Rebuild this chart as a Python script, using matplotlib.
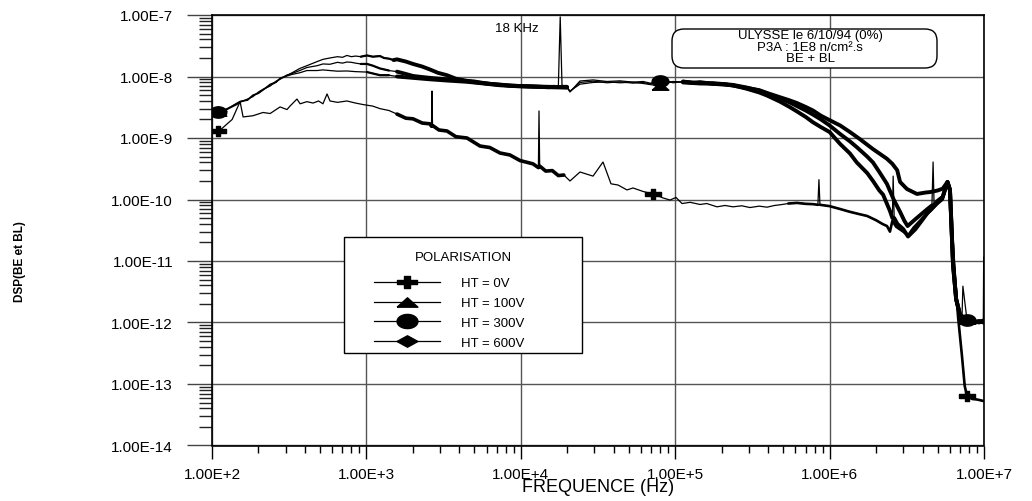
import numpy as np
import matplotlib
matplotlib.use("Agg")
import matplotlib.pyplot as plt
from matplotlib.ticker import LogLocator, FuncFormatter, NullFormatter
from matplotlib.patches import Rectangle, FancyBboxPatch
from matplotlib.lines import Line2D
from matplotlib.path import Path

plt.rcParams['font.family'] = ['Liberation Sans', 'DejaVu Sans']

# ---------------- data ----------------
freq_0v = [109, 115, 135, 152, 159, 184, 214, 238, 260, 276, 306, 320, 355, 372, 412, 451, 490, 523,
           556, 581, 650, 748, 850, 950, 1100, 1225, 1400, 1578, 1800, 2004, 2300, 2582, 2640, 2660,
           2680, 2950, 3324, 3800, 4483, 5446, 6300, 7335, 8500, 9880, 11990, 13000, 13120, 13250,
           14500, 16000, 17500, 19000, 20830, 24170, 29370, 34070, 38380, 42640, 48740, 53300, 62000,
           71800, 83420, 92560, 101200, 110700, 125000, 144800, 160000, 186600, 210000, 236700,
           270000, 305000, 350000, 393300, 440000, 477500, 540000, 615000, 700000, 780600, 840000,
           853000, 866000, 1.0e6, 1.17e6, 1.355e6, 1.55e6, 1.75e6, 2.0e6, 2.2e6, 2.354e6, 2.46e6,
           2.55e6, 2.7e6, 3.0e6, 3.22e6, 3.5e6, 4.0e6, 4.5e6, 5.0e6, 5.4e6, 5.8e6, 6.0e6, 6.2e6,
           6.5e6, 6.8e6, 7.2e6, 7.5e6, 7.76e6, 8.4e6, 9.0e6, 9.9e6]
dsp_0v = [1.30e-9, 1.4e-9, 2.0e-9, 3.9e-9, 2.2e-9, 2.3e-9, 2.6e-9, 2.5e-9, 2.9e-9, 3.2e-9, 2.9e-9,
          3.3e-9, 4.3e-9, 3.6e-9, 3.9e-9, 3.7e-9, 4.0e-9, 3.6e-9, 5.2e-9, 4.0e-9, 3.8e-9, 4.0e-9,
          3.7e-9, 3.5e-9, 3.3e-9, 3.0e-9, 2.8e-9, 2.45e-9, 2.1e-9, 2.05e-9, 1.75e-9, 1.7e-9, 1.55e-9,
          5.8e-9, 1.6e-9, 1.35e-9, 1.3e-9, 1.05e-9, 1.0e-9, 7.4e-10, 7.0e-10, 5.7e-10, 5.3e-10,
          4.3e-10, 3.8e-10, 3.3e-10, 2.75e-9, 3.5e-10, 2.9e-10, 2.95e-10, 2.45e-10, 2.5e-10, 2.0e-10,
          2.8e-10, 2.4e-10, 4.07e-10, 1.8e-10, 1.72e-10, 1.43e-10, 1.54e-10, 1.35e-10, 1.23e-10,
          1.06e-10, 9.8e-11, 1.08e-10, 8.6e-11, 9.0e-11, 8.3e-11, 8.6e-11, 7.6e-11, 8.0e-11, 7.6e-11,
          7.9e-11, 7.4e-11, 7.8e-11, 7.5e-11, 8.0e-11, 8.2e-11, 8.6e-11, 8.8e-11, 8.5e-11, 8.4e-11,
          8.2e-11, 2.1e-10, 8.2e-11, 7.8e-11, 7.0e-11, 6.3e-11, 5.8e-11, 5.4e-11, 4.6e-11, 4.0e-11,
          3.7e-11, 3.0e-11, 4.5e-11, 3.6e-11, 3.0e-11, 2.6e-11, 3.5e-11, 5.0e-11, 6.5e-11, 8.5e-11,
          1.0e-10, 1.93e-10, 1.3e-10, 3.0e-11, 5.0e-12, 1.2e-12, 2.85e-13, 9.3e-14, 6.4e-14, 5.7e-14,
          5.6e-14, 5.3e-14]

freq_100v = [109, 125, 145, 152, 170, 184, 200, 214, 238, 260, 276, 306, 330, 370, 412,
             480, 523, 580, 650, 748, 850, 1009, 1225, 1400, 1578, 2004, 2582, 3324, 4483, 5446,
             7335, 9880, 11990, 15000, 19900, 20830,
             24170, 29370, 36150, 43890, 53300, 62000, 68710, 79770, 88000, 96800,
             112300, 144800, 175800, 236700, 291600, 350000, 393300, 477500, 550000, 615000,
             700000, 780600, 880000, 1.0e6, 1.17e6, 1.355e6, 1.5e6, 1.75e6, 1.91e6, 2.1e6, 2.22e6,
             2.46e6, 2.55e6, 2.58e6, 2.62e6, 2.75e6, 3.0e6, 3.22e6, 3.6e6, 4.3e6, 5.0e6, 5.4e6,
             5.8e6, 6.02e6, 6.3e6, 6.6e6, 7.0e6, 7.76e6, 8.5e6, 9.3e6, 9.9e6]
dsp_100v = [2.65e-9, 2.9e-9, 3.5e-9, 3.9e-9, 4.1e-9, 4.9e-9, 5.3e-9, 6.0e-9, 7.2e-9, 8.0e-9, 9.2e-9,
            1.02e-8, 1.08e-8, 1.15e-8, 1.25e-8,
            1.25e-8, 1.28e-8, 1.25e-8, 1.22e-8, 1.23e-8, 1.2e-8, 1.18e-8, 1.05e-8, 1.05e-8, 1.0e-8,
            9.5e-9, 9.0e-9, 8.6e-9, 8.2e-9, 7.8e-9, 7.2e-9, 6.9e-9, 6.8e-9, 6.7e-9, 6.6e-9, 5.8e-9,
            7.5e-9, 8.0e-9, 8.2e-9, 7.9e-9, 8.1e-9, 7.7e-9, 7.4e-9, 7.0e-9, 7.8e-9, 8.2e-9,
            8.2e-9, 7.8e-9, 7.6e-9, 7.2e-9, 6.3e-9, 5.5e-9, 4.9e-9, 3.9e-9, 3.2e-9, 2.7e-9,
            2.2e-9, 1.8e-9, 1.5e-9, 1.25e-9, 8.0e-10, 5.6e-10, 4.0e-10, 2.7e-10, 2.0e-10, 1.4e-10,
            1.2e-10, 6.5e-11, 5.0e-11, 2.4e-10, 5.0e-11, 4.0e-11, 3.3e-11, 2.5e-11, 3.3e-11, 6.0e-11,
            9.0e-11, 1.1e-10, 1.93e-10, 1.45e-10, 8.3e-12, 2.4e-12, 1.35e-12, 1.1e-12, 1.0e-12,
            1.05e-12, 1.0e-12]

freq_300v = [109, 125, 145, 152, 170, 184, 200, 214, 238, 260, 276, 306, 330, 370, 412,
             480, 523, 580, 650, 700, 748, 800, 850, 920, 1009, 1100, 1225, 1400, 1578, 1800, 2004,
             2300, 2582, 3324, 4483, 5446, 7335, 9880, 11990, 15000, 19900, 20830,
             24170, 29370, 36150, 43890, 53300, 62000, 68710, 79770, 88000, 96800,
             112300, 144800, 175800, 236700, 291600, 350000, 393300, 477500, 550000, 615000,
             700000, 780600, 880000, 1.0e6, 1.17e6, 1.355e6, 1.5e6, 1.75e6, 1.91e6, 2.1e6, 2.35e6,
             2.6e6, 2.86e6, 3.05e6, 3.2e6, 3.6e6, 4.3e6, 4.6e6, 4.68e6, 4.75e6, 5.0e6, 5.4e6, 5.8e6,
             6.02e6, 6.3e6, 6.6e6, 7.0e6, 7.2e6, 7.3e6, 7.76e6, 8.5e6, 9.3e6, 9.9e6]
dsp_300v = [2.6e-9, 3.0e-9, 3.6e-9, 3.8e-9, 4.3e-9, 4.7e-9, 5.6e-9, 6.2e-9, 7.0e-9, 8.4e-9, 9.0e-9,
            1.06e-8, 1.12e-8, 1.25e-8, 1.4e-8,
            1.5e-8, 1.6e-8, 1.58e-8, 1.7e-8, 1.65e-8, 1.72e-8, 1.7e-8, 1.65e-8, 1.6e-8, 1.6e-8,
            1.5e-8, 1.35e-8, 1.25e-8, 1.2e-8, 1.1e-8, 1.02e-8, 9.8e-9, 9.5e-9, 9.0e-9, 8.4e-9,
            7.9e-9, 7.3e-9, 7.0e-9, 6.9e-9, 6.8e-9, 6.7e-9, 5.7e-9,
            8.0e-9, 8.4e-9, 7.9e-9, 8.2e-9, 7.8e-9, 8.0e-9, 7.6e-9, 8.45e-9, 8.0e-9, 8.3e-9,
            8.0e-9, 7.7e-9, 7.8e-9, 7.3e-9, 6.6e-9, 5.9e-9, 5.3e-9, 4.4e-9, 3.8e-9, 3.3e-9,
            2.8e-9, 2.4e-9, 2.0e-9, 1.6e-9, 1.16e-9, 8.8e-10, 7.1e-10, 5.0e-10, 4.0e-10, 2.8e-10,
            1.8e-10, 1.0e-10, 6.3e-11, 4.5e-11, 3.7e-11, 4.8e-11, 7.0e-11, 8.0e-11, 4.07e-10, 8.2e-11,
            9.5e-11, 1.1e-10, 1.93e-10, 1.45e-10, 9.0e-12, 2.4e-12, 1.3e-12, 1.2e-12, 3.9e-12,
            1.1e-12, 1.05e-12, 1.0e-12, 1.08e-12]

freq_600v = [109, 125, 145, 152, 170, 184, 200, 214, 238, 260, 276, 306, 330, 370, 412,
             480, 523, 580, 650, 700, 748, 800, 850, 920, 1009, 1100, 1225, 1300, 1400, 1500, 1578,
             1800, 2004, 2300, 2582, 2900, 3324, 3800, 4483, 5000, 5446, 6300, 7335, 8500, 9880,
             11990, 13500, 15000, 16500, 17500, 18000, 18500, 19900, 20830,
             24170, 29370, 36150, 43890, 53300, 62000, 68710, 79770, 88000, 96800,
             112300, 130000, 144800, 175800, 210000, 236700, 291600, 350000, 393300, 477500, 550000,
             615000, 700000, 780600, 880000, 1.0e6, 1.17e6, 1.355e6, 1.57e6, 1.75e6, 1.91e6, 2.1e6,
             2.35e6, 2.55e6, 2.74e6, 2.86e6, 3.17e6, 3.68e6, 4.2e6, 4.47e6, 5.0e6, 5.4e6, 5.8e6,
             6.02e6, 6.3e6, 6.6e6, 7.0e6, 7.4e6, 7.76e6, 8.5e6, 9.2e6, 9.9e6, 9.95e6]
dsp_600v = [2.7e-9, 2.95e-9, 3.7e-9, 3.95e-9, 4.2e-9, 5.0e-9, 5.4e-9, 6.1e-9, 7.5e-9, 8.2e-9, 9.4e-9,
            1.04e-8, 1.15e-8, 1.35e-8, 1.5e-8,
            1.75e-8, 1.9e-8, 2.0e-8, 2.1e-8, 2.05e-8, 2.2e-8, 2.1e-8, 2.15e-8, 2.1e-8, 2.2e-8,
            2.1e-8, 2.15e-8, 2.0e-8, 1.95e-8, 1.85e-8, 1.9e-8, 1.75e-8, 1.6e-8, 1.45e-8, 1.3e-8,
            1.15e-8, 1.05e-8, 9.2e-9, 8.5e-9, 8.3e-9, 8.0e-9, 7.6e-9, 7.4e-9, 7.1e-9, 7.0e-9,
            6.9e-9, 6.8e-9, 6.7e-9, 6.8e-9, 6.7e-9, 9.3e-8, 6.8e-9, 6.8e-9, 5.6e-9,
            8.45e-9, 8.8e-9, 8.3e-9, 8.5e-9, 8.1e-9, 8.3e-9, 7.8e-9, 8.1e-9, 8.5e-9, 7.9e-9,
            8.3e-9, 7.9e-9, 8.1e-9, 7.6e-9, 7.5e-9, 7.1e-9, 6.5e-9, 6.0e-9, 5.4e-9, 4.6e-9, 4.1e-9,
            3.7e-9, 3.2e-9, 2.8e-9, 2.3e-9, 1.95e-9, 1.6e-9, 1.25e-9, 9.6e-10, 7.8e-10, 6.6e-10,
            5.6e-10, 4.6e-10, 3.8e-10, 3.0e-10, 1.93e-10, 1.48e-10, 1.23e-10, 1.3e-10, 1.32e-10,
            1.4e-10, 1.5e-10, 1.93e-10, 1.4e-10, 1.0e-11, 2.4e-12, 1.3e-12, 1.15e-12, 1.1e-12,
            1.0e-12, 1.05e-12, 1.05e-12, 1.16e-11]

series_labels = ["HT = 0V", "HT = 100V", "HT = 300V", "HT = 600V"]
marker_freqs_0v = [109, 71800, 7.76e6]
marker_freqs_ht = [109, 79770, 7.76e6]
annotation_lines = ["ULYSSE le 6/10/94 (0%)", "P3A : 1E8 n/cm\u00b2.s", "BE + BL"]

# ---------------- markers ----------------
plus_m = Path([(-1, -0.22), (-0.25, -0.22), (-0.25, -0.62), (0.25, -0.62), (0.25, -0.22), (1, -0.22),
               (1, 0.22), (0.25, 0.22), (0.25, 0.62), (-0.25, 0.62), (-0.25, 0.22), (-1, 0.22),
               (-1, -0.22)])
tri_m = Path([(-1, -0.45), (1, -0.45), (0, 0.45), (-1, -0.45)])
_t = np.linspace(0, 2 * np.pi, 41)
ell_m = Path(np.c_[np.cos(_t), 0.68 * np.sin(_t)])
dia_m = Path([(-1, 0), (0, 0.55), (1, 0), (0, -0.55), (-1, 0)])

# ---------------- figure ----------------
W, H = 1032, 502
fig = plt.figure(figsize=(W / 100, H / 100), dpi=100)
ax = fig.add_axes([212 / W, 1 - 446.5 / H, (984 - 212) / W, (446.5 - 16) / H])
ax.set_xscale('log')
ax.set_yscale('log')
ax.set_xlim(1e2, 1e7)
ax.set_ylim(1e-14, 1e-7)


def draw(freq, dsp, marker, ms, bands, mfreqs):
    f = np.asarray(freq, float)
    v = np.asarray(dsp, float)
    ax.plot(f, v, color='black', lw=0.9, zorder=3)
    # isolated spikes drawn thin only
    spike = np.zeros(len(v), bool)
    for i in range(1, len(v) - 1):
        if v[i] > 2.2 * v[i - 1] and v[i] > 2.2 * v[i + 1]:
            spike[i] = True
    if v[-1] > 3 * v[-2]:
        spike[-1] = True
    for lo, hi, lw in bands:
        m = (f >= lo) & (f <= hi) & ~spike
        ax.plot(f, np.where(m, v, np.nan), color='black', lw=lw, zorder=3,
                solid_joinstyle='round', solid_capstyle='round')
    idx = [int(np.argmin(np.abs(np.log10(f) - np.log10(mf)))) for mf in mfreqs]
    ax.plot(f[idx], v[idx], linestyle='none', marker=marker, ms=ms, color='black', zorder=4)


bands_ht = [(1500, 20000, 2.8), (110000, 1e7, 2.8)]
bands_ht_mid = [(900, 1500, 1.6)]
bands_0v = [(1500, 20000, 2.6), (500000, 1e7, 1.9)]
draw(freq_100v, dsp_100v, tri_m, 12, bands_ht + bands_ht_mid, marker_freqs_ht)
draw(freq_300v, dsp_300v, ell_m, 12, bands_ht + bands_ht_mid, marker_freqs_ht)
draw(freq_600v, dsp_600v, dia_m, 12, bands_ht + bands_ht_mid, marker_freqs_ht)
draw(freq_0v, dsp_0v, plus_m, 12, bands_0v, marker_freqs_0v)

# ---------------- axes styling ----------------
fmt = FuncFormatter(lambda val, pos: "1.00E%+d" % int(round(np.log10(val))))
ax.yaxis.set_major_locator(LogLocator(base=10, numticks=20))
ax.yaxis.set_minor_locator(LogLocator(base=10, subs=np.arange(2, 10), numticks=20))
ax.xaxis.set_major_locator(LogLocator(base=10, numticks=20))
ax.xaxis.set_minor_locator(LogLocator(base=10, subs=np.arange(2, 10), numticks=20))
ax.yaxis.set_major_formatter(fmt)
ax.xaxis.set_major_formatter(fmt)
ax.yaxis.set_minor_formatter(NullFormatter())
ax.xaxis.set_minor_formatter(NullFormatter())
ax.tick_params(axis='y', which='major', direction='out', length=18, width=1.0, pad=10, labelsize=11,
               color='#444444')
ax.tick_params(axis='y', which='minor', direction='out', length=9.4, width=1.0, color='#222222')
ax.tick_params(axis='x', which='major', direction='out', length=9.4, width=1.0, pad=6, labelsize=11)
ax.tick_params(axis='x', which='minor', direction='out', length=5, width=1.0)
ax.grid(True, which='major', color='#555555', lw=1.0)
ax.set_axisbelow(True)
for s in ax.spines.values():
    s.set_color('black')
    s.set_linewidth(1.2)

# axis labels
fig.text(598 / W, 1 - 488 / H, "FREQUENCE (Hz)", ha='center', va='center', fontsize=13)
fig.text(20 / W, 1 - 262 / H, "DSP(BE et BL)", rotation=90, ha='center', va='center',
         fontsize=8.5, fontweight='bold')

# 18 kHz label
fig.text(495 / W, 1 - 29 / H, "18 KHz", ha='left', va='center', fontsize=9.5)

# annotation box (pixel-like inch coordinates)
box = FancyBboxPatch((6.72, (H - 69) / 100), 2.65, 0.39,
                     boxstyle='round,pad=0,rounding_size=0.12', transform=fig.dpi_scale_trans,
                     fc='white', ec='black', lw=1.0, zorder=5)
fig.add_artist(box)
for txt, yy in zip(annotation_lines, [36, 48, 59.5]):
    fig.text(810 / W, 1 - yy / H, txt, ha='center', va='center', fontsize=9.5, zorder=6)

# legend box
lrect = Rectangle((3.44, (H - 354) / 100), 2.38, 1.16, transform=fig.dpi_scale_trans,
                  fc='white', ec='black', lw=1.0, zorder=5)
fig.add_artist(lrect)
fig.text(463 / W, 1 - 258 / H, "POLARISATION", ha='center', va='center', fontsize=9.5, zorder=7)
handles = [Line2D([], [], color='black', lw=0.9, marker=m, ms=15)
           for m in [plus_m, tri_m, ell_m, dia_m]]
leg = fig.legend(handles, series_labels, loc='upper left',
                 bbox_to_anchor=(374 / W, 1 - 278 / H), bbox_transform=fig.transFigure,
                 frameon=False, fontsize=9.5, handlelength=5.0, handletextpad=1.6,
                 labelspacing=0.58, borderpad=0, borderaxespad=0, numpoints=1)
leg.set_zorder(7)

fig.savefig("out.png", dpi=100)
